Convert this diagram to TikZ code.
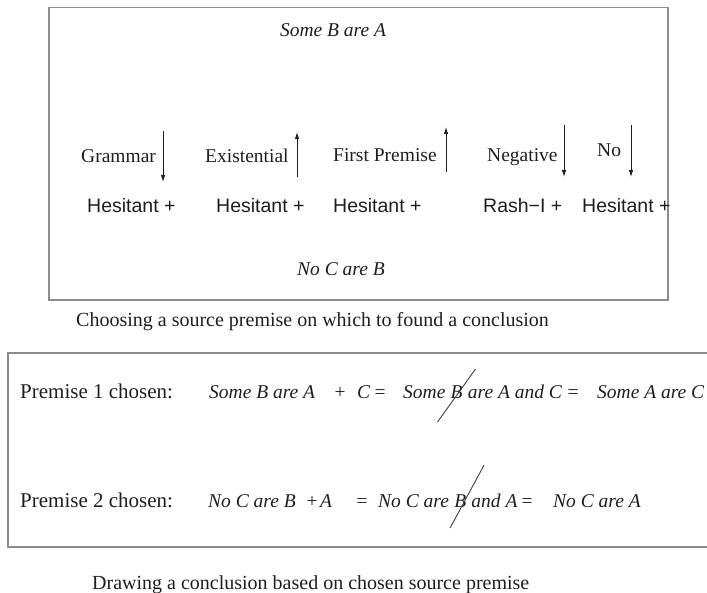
\documentclass[tikz,border=0pt]{standalone}
\usepackage{fontspec}
\setmainfont{Liberation Serif}
\newfontfamily\hsans{Liberation Sans}
\usetikzlibrary{arrows.meta,calc}
\definecolor{ink}{HTML}{1E1E1E}
\definecolor{boxgray}{HTML}{8C8C8C}
\begin{document}
\begin{tikzpicture}[x=1pt,y=-1pt,
  panel/.style={draw=boxgray,line width=1.3pt},
  cue/.style={font=\fontsize{19.5}{22}\selectfont,text=ink,inner sep=0pt,anchor=base west},
  mstate/.style={font=\hsans\fontsize{19.5}{22}\selectfont,text=ink,inner sep=0pt,anchor=base west},
  prop/.style={font=\itshape\fontsize{19.5}{22}\selectfont,text=ink,inner sep=0pt,anchor=base west},
  oper/.style={font=\fontsize{19.5}{22}\selectfont,text=ink,inner sep=0pt,anchor=base},
  rowlab/.style={font=\fontsize{21}{24}\selectfont,text=ink,inner sep=0pt,anchor=base west},
  captext/.style={font=\fontsize{20}{24}\selectfont,text=ink,inner sep=0pt,anchor=base west},
  flow/.style={draw=ink,line width=0.9pt,-{Latex[length=7pt,width=4.5pt]}},
  strike/.style={draw=ink!85,line width=0.9pt}
]
\useasboundingbox (0,0) rectangle (707,593);
\clip (0,0) rectangle (707,593);

% ---- upper panel: cues acting on each mental state ----
\draw[panel] (49,7.5) rectangle (668,300);
\node[prop,anchor=base] (topprem) at (333,37) {Some B are A};

\node[cue] (gram)  at (81,163)  {Grammar};
\node[cue] (exist) at (205,163) {Existential};
\node[cue] (first) at (333,162) {First Premise};
\node[cue] (neg)   at (487,162) {Negative};
\node[cue] (no)    at (597,157) {No};

\coordinate (gramtop) at (163,131);  \coordinate (gramtip) at (163,182);
\coordinate (exbot)   at (297,177);  \coordinate (extip)   at (297,132);
\coordinate (firstbot) at (446,172); \coordinate (firsttip) at (446,127);
\coordinate (negtop)  at (564,125);  \coordinate (negtip)  at (564,177);
\coordinate (notop)   at (631,125);  \coordinate (notip)   at (631,177);
\draw[flow] (gramtop) -- (gramtip);
\draw[flow] (exbot) -- (extip);
\draw[flow] (firstbot) -- (firsttip);
\draw[flow] (negtop) -- (negtip);
\draw[flow] (notop) -- (notip);

\node[mstate] (h1) at (87,213)  {Hesitant +};
\node[mstate] (h2) at (216,213) {Hesitant +};
\node[mstate] (h3) at (333,213) {Hesitant +};
\node[mstate] (r4) at (483,213) {Rash−I +};
\node[mstate] (h5) at (582,213) {Hesitant +};

\node[prop,anchor=base] (botprem) at (341,276) {No C are B};
\node[captext] (cap1) at (76,327) {Choosing a source premise on which to found a conclusion};

% ---- lower panel: conclusions from each source premise ----
\draw[panel] (712,353) -- (8,353) -- (8,547) -- (712,547);

\node[rowlab] (lab1)   at (20,399)  {Premise 1 chosen:};
\node[prop]   (r1a)    at (209,399) {Some B are A};
\node[oper]   (r1plus) at (340,399) {+};
\node[prop]   (r1c)    at (357,399) {C};
\node[oper]   (r1eq)   at (380,399) {=};
\node[prop]   (r1s)    at (403,399) {Some};
\node[prop]   (r1b)    at ($(r1s.base east)+(4.9,0)$) {B};
\node[prop]   (r1rest) at ($(r1b.base east)+(4.9,0)$) {are A and C};
\node[oper]   (r1eq2)  at (573,399) {=};
\node[prop]   (r1end)  at (597,399) {Some A are C};
\draw[strike] ($(r1b.base west)+(-13,23)$) -- ($(r1b.base west)+(25,-30)$);

\node[rowlab] (lab2)   at (20,507)  {Premise 2 chosen:};
\node[prop]   (r2a)    at (208,507) {No C are B};
\node[oper]   (r2plus) at (312,507) {+};
\node[prop]   (r2x)    at (320,507) {A};
\node[oper]   (r2eq)   at (362,507) {=};
\node[prop]   (r2n)    at (378,507) {No C are};
\node[prop]   (r2b)    at ($(r2n.base east)+(4.9,0)$) {B};
\node[prop]   (r2rest) at ($(r2b.base east)+(4.9,0)$) {and A};
\node[oper]   (r2eq2)  at (527,507) {=};
\node[prop]   (r2end)  at (553,507) {No C are A};
\draw[strike] ($(r2b.base west)+(-4,21)$) -- ($(r2b.base west)+(30,-42)$);

\node[captext] (cap2) at (92,589) {Drawing a conclusion based on chosen source premise};
\end{tikzpicture}
\end{document}
